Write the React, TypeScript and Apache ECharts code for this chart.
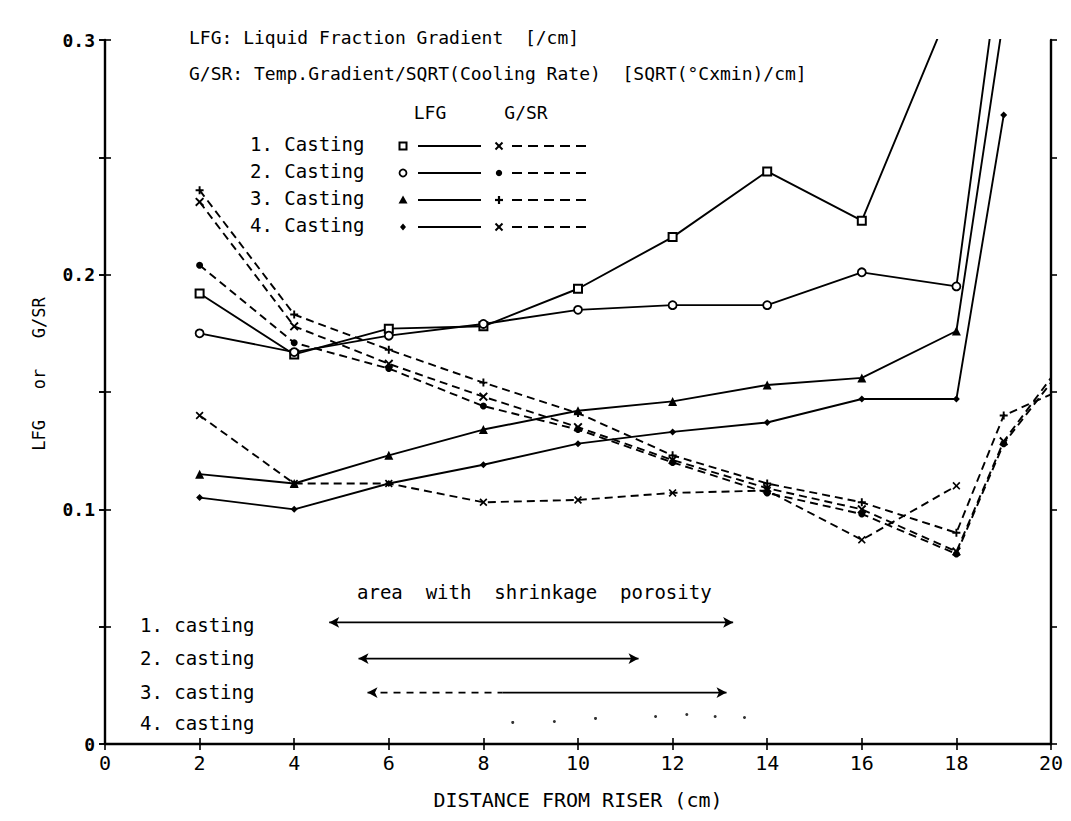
import React, { useEffect, useRef } from "react";
import * as echarts from "echarts";

// ---------- data ----------
const distances = [2, 4, 6, 8, 10, 12, 14, 16, 18, 19, 20];

const lfg1 = [0.192, 0.166, 0.177, 0.178, 0.194, 0.216, 0.244, 0.223, 0.32, null, null];
const lfg2 = [0.175, 0.167, 0.174, 0.179, 0.185, 0.187, 0.187, 0.201, 0.195, 0.345, null];
const lfg3 = [0.115, 0.111, 0.123, 0.134, 0.142, 0.146, 0.153, 0.156, 0.176, 0.31, null];
const lfg4 = [0.105, 0.1, 0.111, 0.119, 0.128, 0.133, 0.137, 0.147, 0.147, 0.268, null];

const gsr1 = [0.14, 0.111, 0.111, 0.103, 0.104, 0.107, 0.108, 0.087, 0.11, null, null];
const gsr2 = [0.204, 0.171, 0.16, 0.144, 0.134, 0.12, 0.107, 0.098, 0.081, 0.128, 0.154];
const gsr3 = [0.236, 0.183, 0.168, 0.154, 0.141, 0.123, 0.111, 0.103, 0.09, 0.14, 0.149];
const gsr4 = [0.231, 0.178, 0.162, 0.148, 0.135, 0.121, 0.109, 0.1, 0.082, 0.129, 0.156];

// area with shrinkage porosity (cm along the casting) and the level of each row
const porosityRowLabels = ["1. casting", "2. casting", "3. casting", "4. casting"];
const porosityLevels = [0.0518, 0.0364, 0.0219];
const porosityFrom = [4.74, 5.36, 5.55];
const porosityTo = [13.28, 11.28, 13.14];
const casting3SolidFrom = 8.4;
const casting4Dots = [8.62, 9.5, 10.37, 11.64, 12.3, 12.9, 13.52];
const casting4DotLevels = [0.0092, 0.0096, 0.0109, 0.0117, 0.0126, 0.0117, 0.0113];

const legendRows = ["1. Casting", "2. Casting", "3. Casting", "4. Casting"];
const lfgMarkers = ["square", "ring", "triangle", "diamond"];
const gsrMarkers = ["x", "dot", "plus", "x"];

const yLabelValues = [0, 0.1, 0.2, 0.3];

// ---------- helpers ----------
const MONO = "'DejaVu Sans Mono', 'Liberation Mono', monospace";
const X_PATH = "path://M0,1.5L1.5,0L5,3.5L8.5,0L10,1.5L6.5,5L10,8.5L8.5,10L5,6.5L1.5,10L0,8.5L3.5,5Z";
const PLUS_PATH = "path://M3.8,0H6.2V3.8H10V6.2H6.2V10H3.8V6.2H0V3.8H3.8Z";

function pairs(values: (number | null)[], noMarkerAt: number[] = []) {
  const out: any[] = [];
  values.forEach((v, i) => {
    if (v === null) return;
    const x = distances[i];
    if (noMarkerAt.includes(x)) out.push({ value: [x, v], symbol: "none" });
    else out.push([x, v]);
  });
  return out;
}

function markerGraphic(kind: string, cx: number, cy: number): any[] {
  const s = { stroke: "#000", lineWidth: 1.6 };
  switch (kind) {
    case "square":
      return [{ type: "rect", shape: { x: cx - 3.5, y: cy - 3.5, width: 7, height: 7 }, style: { fill: "#fff", stroke: "#000", lineWidth: 2 } }];
    case "ring":
      return [{ type: "circle", shape: { cx, cy, r: 3.5 }, style: { fill: "#fff", stroke: "#000", lineWidth: 1.8 } }];
    case "triangle":
      return [{ type: "polygon", shape: { points: [[cx, cy - 4.5], [cx + 4.5, cy + 3.5], [cx - 4.5, cy + 3.5]] }, style: { fill: "#000" } }];
    case "diamond":
      return [{ type: "polygon", shape: { points: [[cx, cy - 3.5], [cx + 3, cy], [cx, cy + 3.5], [cx - 3, cy]] }, style: { fill: "#000" } }];
    case "dot":
      return [{ type: "circle", shape: { cx, cy, r: 3.2 }, style: { fill: "#000" } }];
    case "plus":
      return [
        { type: "line", shape: { x1: cx - 4, y1: cy, x2: cx + 4, y2: cy }, style: { ...s, lineWidth: 2.2 } },
        { type: "line", shape: { x1: cx, y1: cy - 4, x2: cx, y2: cy + 4 }, style: { ...s, lineWidth: 2.2 } },
      ];
    default:
      return [
        { type: "line", shape: { x1: cx - 3.5, y1: cy - 3.5, x2: cx + 3.5, y2: cy + 3.5 }, style: { ...s, lineWidth: 2 } },
        { type: "line", shape: { x1: cx + 3.5, y1: cy - 3.5, x2: cx - 3.5, y2: cy + 3.5 }, style: { ...s, lineWidth: 2 } },
      ];
  }
}

function buildOption(): any {
  const solid = { color: "#000", width: 1.9, type: "solid" };
  const dashed = { color: "#000", width: 1.9, type: [8, 5] };
  const base = {
    type: "line",
    xAxisIndex: 0,
    yAxisIndex: 0,
    clip: true,
    silent: true,
    emphasis: { disabled: true },
    z: 3,
  };

  const series: any[] = [
    { ...base, name: "LFG 1", data: pairs(lfg1), lineStyle: solid, symbol: "rect", symbolSize: 8, itemStyle: { color: "#fff", borderColor: "#000", borderWidth: 2 } },
    { ...base, name: "LFG 2", data: pairs(lfg2), lineStyle: solid, symbol: "circle", symbolSize: 8, itemStyle: { color: "#fff", borderColor: "#000", borderWidth: 1.8 } },
    { ...base, name: "LFG 3", data: pairs(lfg3), lineStyle: solid, symbol: "triangle", symbolSize: 9, itemStyle: { color: "#000" } },
    { ...base, name: "LFG 4", data: pairs(lfg4), lineStyle: solid, symbol: "diamond", symbolSize: 7, itemStyle: { color: "#000" } },
    { ...base, name: "G/SR 1", data: pairs(gsr1), lineStyle: dashed, symbol: X_PATH, symbolSize: 8, itemStyle: { color: "#000" } },
    { ...base, name: "G/SR 2", data: pairs(gsr2, [20]), lineStyle: dashed, symbol: "circle", symbolSize: 7, itemStyle: { color: "#000" } },
    { ...base, name: "G/SR 3", data: pairs(gsr3, [20]), lineStyle: dashed, symbol: PLUS_PATH, symbolSize: 8, itemStyle: { color: "#000" } },
    { ...base, name: "G/SR 4", data: pairs(gsr4, [20]), lineStyle: dashed, symbol: X_PATH, symbolSize: 9, itemStyle: { color: "#000" } },
  ];

  // porosity ranges as arrows
  porosityLevels.forEach((lvl, i) => {
    if (i === 2) {
      series.push({
        ...base, name: "porosity 3a",
        data: [{ value: [porosityFrom[i], lvl], symbol: "arrow", symbolRotate: 90 }, { value: [casting3SolidFrom, lvl], symbol: "none" }],
        lineStyle: { color: "#000", width: 1.6, type: [7, 6] }, symbolSize: [8, 10], itemStyle: { color: "#000" },
      });
      series.push({
        ...base, name: "porosity 3b",
        data: [{ value: [casting3SolidFrom, lvl], symbol: "none" }, { value: [porosityTo[i], lvl], symbol: "arrow", symbolRotate: -90 }],
        lineStyle: { color: "#000", width: 1.8 }, symbolSize: [8, 10], itemStyle: { color: "#000" },
      });
    } else {
      series.push({
        ...base, name: "porosity " + (i + 1),
        data: [
          { value: [porosityFrom[i], lvl], symbol: "arrow", symbolRotate: 90 },
          { value: [porosityTo[i], lvl], symbol: "arrow", symbolRotate: -90 },
        ],
        lineStyle: { color: "#000", width: 1.8 }, symbolSize: [8, 10], itemStyle: { color: "#000" },
      });
    }
  });
  series.push({
    type: "scatter", name: "porosity 4", xAxisIndex: 0, yAxisIndex: 0, silent: true,
    data: casting4Dots.map((x, i) => [x, casting4DotLevels[i]]),
    symbol: "circle", symbolSize: 3, itemStyle: { color: "#000" },
  });

  // ----- graphic: header texts, legend table, porosity labels -----
  const graphic: any[] = [];
  const txt = (text: string, x: number, y: number, size: number, align = "left") => ({
    type: "text", x, y, silent: true,
    style: { text, fill: "#000", font: `${size}px ${MONO}`, textAlign: align, textVerticalAlign: "middle" },
  });
  graphic.push(txt("LFG: Liquid Fraction Gradient  [/cm]", 189, 37, 18));
  graphic.push(txt("G/SR: Temp.Gradient/SQRT(Cooling Rate)  [SQRT(\u00B0Cxmin)/cm]", 189, 73, 18));
  graphic.push(txt("LFG", 430, 112, 18, "center"));
  graphic.push(txt("G/SR", 526, 112, 18, "center"));
  const rowY = [144, 171, 198, 225];
  legendRows.forEach((label, i) => {
    const y = rowY[i];
    graphic.push(txt(label, 250, y, 19));
    graphic.push(...markerGraphic(lfgMarkers[i], 403, y + 2));
    graphic.push({ type: "line", shape: { x1: 418, y1: y + 2, x2: 481, y2: y + 2 }, style: { stroke: "#000", lineWidth: 1.8 } });
    graphic.push(...markerGraphic(gsrMarkers[i], 499, y + 2));
    graphic.push({ type: "line", shape: { x1: 512, y1: y + 2, x2: 588, y2: y + 2 }, style: { stroke: "#000", lineWidth: 1.8, lineDash: [10, 6] } });
  });
  graphic.push(txt("area  with  shrinkage  porosity", 357, 592, 19));
  const porY = [625, 658, 692, 723];
  porosityRowLabels.forEach((label, i) => graphic.push(txt(label, 140, porY[i], 19)));

  const axisColor = "#000";
  const yLabelFmt = (v: number) => {
    const hit = yLabelValues.find((t) => Math.abs(t - v) < 1e-9);
    if (hit === undefined) return "";
    return hit === 0 ? "0" : hit.toFixed(1);
  };

  const yCommon = { type: "value", min: 0, max: 0.3, interval: 0.05, splitLine: { show: false } };
  const xCommon = { type: "value", min: 0, max: 20, interval: 2, splitLine: { show: false } };

  return {
    animation: false,
    backgroundColor: "#fff",
    grid: { left: 105, right: 20, top: 40, bottom: 77, containLabel: false },
    xAxis: [
      {
        ...xCommon,
        position: "bottom",
        name: "DISTANCE FROM RISER (cm)",
        nameLocation: "middle",
        nameGap: 46,
        nameTextStyle: { fontFamily: MONO, fontSize: 20, color: "#000" },
        axisLine: { show: true, onZero: false, lineStyle: { color: axisColor, width: 2.4 } },
        axisTick: { show: true, length: 6, lineStyle: { color: axisColor, width: 1.6 } },
        axisLabel: { show: true, margin: 9, fontFamily: MONO, fontSize: 20, color: "#000", showMinLabel: true, showMaxLabel: true },
      },
      {
        ...xCommon,
        position: "bottom",
        axisLine: { show: false },
        axisTick: { show: true, inside: true, length: 6, lineStyle: { color: axisColor, width: 1.6 } },
        axisLabel: { show: false },
      },
    ],
    yAxis: [
      {
        ...yCommon,
        position: "left",
        name: "LFG   or   G/SR",
        nameLocation: "middle",
        nameGap: 58,
        nameTextStyle: { fontFamily: MONO, fontSize: 17, color: "#000", padding: [0, 0, 0, 36] },
        axisLine: { show: true, onZero: false, lineStyle: { color: axisColor, width: 2.4 } },
        axisTick: { show: true, length: 6, lineStyle: { color: axisColor, width: 1.6 } },
        axisLabel: { show: true, margin: 10, fontFamily: MONO, fontSize: 18, fontWeight: "bold", color: "#000", formatter: yLabelFmt, showMinLabel: true, showMaxLabel: true },
      },
      {
        ...yCommon,
        position: "left",
        axisLine: { show: false },
        axisTick: { show: true, inside: true, length: 6, lineStyle: { color: axisColor, width: 1.6 } },
        axisLabel: { show: false },
      },
      {
        ...yCommon,
        position: "right",
        axisLine: { show: true, onZero: false, lineStyle: { color: axisColor, width: 2.4 } },
        axisTick: { show: true, length: 6, lineStyle: { color: axisColor, width: 1.6 } },
        axisLabel: { show: false },
      },
      {
        ...yCommon,
        position: "right",
        axisLine: { show: false },
        axisTick: { show: true, inside: true, length: 6, lineStyle: { color: axisColor, width: 1.6 } },
        axisLabel: { show: false },
      },
    ],
    series,
    graphic,
  };
}

export default function App() {
  const ref = useRef<HTMLDivElement>(null);
  useEffect(() => {
    if (!ref.current) return;
    const chart = echarts.init(ref.current, null, { renderer: "svg" });
    chart.setOption(buildOption());
    return () => chart.dispose();
  }, []);
  return (
    <div
      ref={ref}
      style={{ position: "fixed", left: 0, top: 0, width: 1071, height: 821, background: "#fff" }}
    />
  );
}
